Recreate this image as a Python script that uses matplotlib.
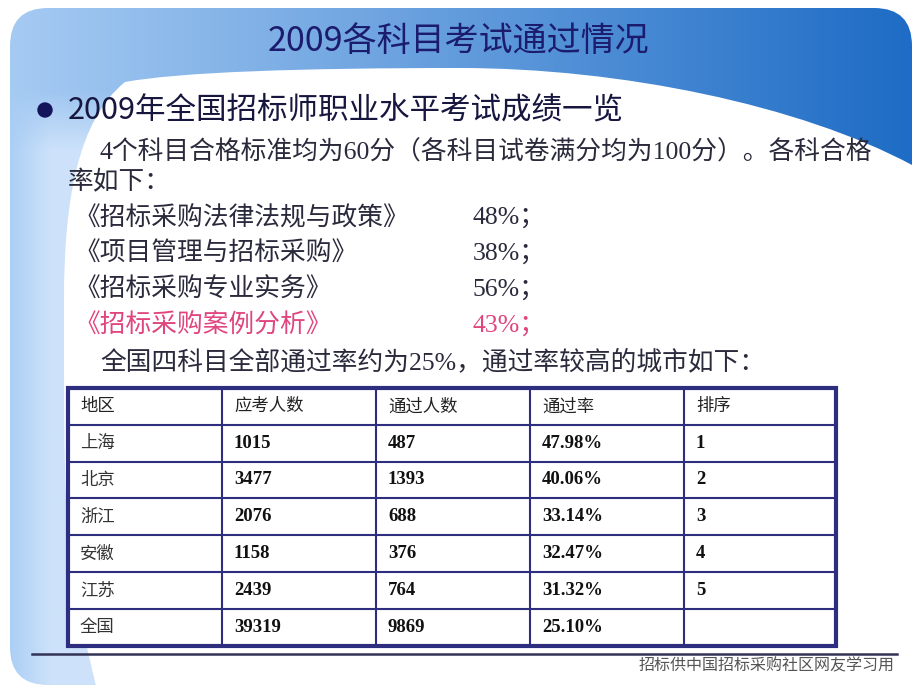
import numpy as np
import matplotlib.pyplot as plt
from matplotlib.patches import FancyBboxPatch, PathPatch, Circle
from matplotlib.path import Path

# Données
subjects = ['《招标采购法律法规与政策》', '《项目管理与招标采购》', '《招标采购专业实务》', '《招标采购案例分析》']
subject_rates = ['48%；', '38%；', '56%；', '43%；']

headers = ['地区', '应考人数', '通过人数', '通过率', '排序']
regions = ['上海', '北京', '浙江', '安徽', '江苏', '全国']
applicants = [1015, 3477, 2076, 1158, 2439, 39319]
passed = [487, 1393, 688, 376, 764, 9869]
rates = ['47.98%', '40.06%', '33.14%', '32.47%', '31.32%', '25.10%']
ranks = ['1', '2', '3', '4', '5', '']

CJK = ['Noto Sans CJK SC', 'DejaVu Sans']
SERIF = ['Liberation Serif', 'Noto Sans CJK SC']
navy = '#1c1c6e'

fig = plt.figure(figsize=(9.2, 6.9), dpi=100)
ax = fig.add_axes([0, 0, 1, 1])
ax.set_xlim(0, 920)
ax.set_ylim(690, 0)
ax.axis('off')

# Fond bleu en dégradé (bandeau du haut + bande à gauche)
W, H = 451, 339
x0, x1, y0, y1 = 10, 912, 8, 685
gx = np.linspace(0, 1, W)[None, :, None]
left = np.array([166, 203, 243]) / 255
right = np.array([30, 108, 197]) / 255
img = np.repeat(left + (right - left) * gx, H, axis=0)
px = np.linspace(x0, x1, W)
py = np.linspace(y0, y1, H)
cut = px < 140
c_a = np.array([172, 207, 245]) / 255
c_b = np.array([205, 226, 250]) / 255
t = np.clip((px[cut] - x0) / 40, 0, 1)[:, None]
bcol = c_a + (c_b - c_a) * t
wy = np.clip((py - 90) / 60, 0, 1)[:, None, None]
img[:, cut] = img[:, cut] * (1 - wy) + bcol[None, :, :] * wy
frame = FancyBboxPatch((x0, y0), x1 - x0, y1 - y0, boxstyle='round,pad=0,rounding_size=38',
                       facecolor='none', edgecolor='none')
ax.add_patch(frame)
im = ax.imshow(img, extent=[x0, x1, y1, y0], origin='upper', aspect='auto', zorder=0)
im.set_clip_path(frame)

# Zone blanche
verts = [(925, 172), (912, 165),
         (800, 105), (620, 68), (460, 68),
         (300, 68), (180, 72), (125, 82),
         (78, 120), (64, 200), (64, 300),
         (64, 400), (64, 450), (66, 500),
         (70, 580), (85, 640), (97, 690),
         (925, 690), (925, 172)]
codes = [Path.MOVETO, Path.LINETO,
         Path.CURVE4, Path.CURVE4, Path.CURVE4,
         Path.CURVE4, Path.CURVE4, Path.CURVE4,
         Path.CURVE4, Path.CURVE4, Path.CURVE4,
         Path.CURVE4, Path.CURVE4, Path.CURVE4,
         Path.CURVE4, Path.CURVE4, Path.CURVE4,
         Path.LINETO, Path.CLOSEPOLY]
ax.add_patch(PathPatch(Path(verts, codes), facecolor='white', edgecolor='none', zorder=1))

# Titre
ax.text(458, 42, '2009各科目考试通过情况', family=CJK, fontsize=24.5, color=navy,
        ha='center', va='center', zorder=3)

# Puce et sous-titre
ax.add_patch(Circle((45, 110), 7, color='#14145a', zorder=3))
ax.text(68, 110, '2009年全国招标师职业水平考试成绩一览', family=CJK, fontsize=22,
        color='#16163f', ha='left', va='center', zorder=3)

txt = '#2a2a3c'
ax.text(100, 152, '4个科目合格标准均为60分（各科目试卷满分均为100分）。各科合格',
        family=SERIF, fontsize=18.5, color=txt, ha='left', va='center', zorder=3)
ax.text(68, 182, '率如下：', family=SERIF, fontsize=18.5, color=txt, ha='left', va='center', zorder=3)
for i, (s, r) in enumerate(zip(subjects, subject_rates)):
    c = '#e0457e' if i == 3 else txt
    y = 218 + 36 * i
    ax.text(74, y, s, family=SERIF, fontsize=18.5, color=c, ha='left', va='center', zorder=3)
    ax.text(473, y, r, family=SERIF, fontsize=18.5, color=c, ha='left', va='center', zorder=3)
ax.text(100, 362, '全国四科目全部通过率约为25%，通过率较高的城市如下：',
        family=SERIF, fontsize=18.5, color=txt, ha='left', va='center', zorder=3)

# Tableau
col_x = [68, 222, 376, 530, 684, 836]
top, rh = 388, 36.8
nrows = len(regions) + 1
bottom = top + nrows * rh
line_c = '#2e2e80'
for x in col_x[1:-1]:
    ax.plot([x, x], [top, bottom], color=line_c, lw=1.5, zorder=4)
for k in range(1, nrows):
    ax.plot([col_x[0], col_x[-1]], [top + k * rh] * 2, color=line_c, lw=1.5, zorder=4)
ax.add_patch(plt.Rectangle((col_x[0], top), col_x[-1] - col_x[0], bottom - top,
                           facecolor='white', edgecolor=line_c, lw=3, zorder=2))

for j, h in enumerate(headers):
    ax.text(col_x[j] + 12, top + rh / 2, h, family=CJK, fontsize=12.5, color='#222222',
            ha='left', va='center', zorder=5)
for i in range(len(regions)):
    yc = top + (i + 1.5) * rh
    row = [str(applicants[i]), str(passed[i]), rates[i], ranks[i]]
    ax.text(col_x[0] + 12, yc, regions[i], family=CJK, fontsize=12.5, color='#333333',
            weight='light', ha='left', va='center', zorder=5)
    for j, v in enumerate(row):
        ax.text(col_x[j + 1] + 12, yc, v, family=SERIF, fontsize=13.5, weight='bold',
                color='#111111', ha='left', va='center', zorder=5)

# Pied de page
ax.plot([32, 897], [654, 654], color='#333355', lw=1.8, zorder=3)
ax.text(895, 666, '招标供中国招标采购社区网友学习用', family=SERIF, fontsize=11.5,
        color='#555555', ha='right', va='center', zorder=3)

plt.savefig('out.png', dpi=100)
